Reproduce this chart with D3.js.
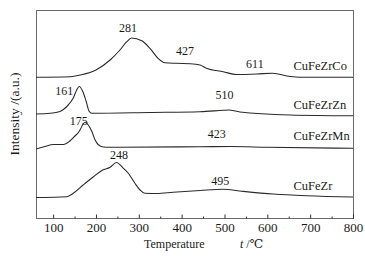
<!DOCTYPE html>
<html>
<head>
<meta charset="utf-8">
<script src="https://cdn.jsdelivr.net/npm/d3@7"></script>
<style>
  body { margin: 0; background: #fff; }
</style>
</head>
<body>
<svg id="chart" width="365" height="257"></svg>
<script>
// TPR profiles, temperature (°C) vs intensity (a.u., offset stacked)
const seriesNames = ["CuFeZrCo", "CuFeZrZn", "CuFeZrMn", "CuFeZr"];

const tempCo = [60, 140, 163, 200, 233, 256, 272, 283, 307, 326, 345, 361, 388, 420, 443, 458, 497, 528, 575, 612, 653, 676, 800];
const intCo  = [140.7, 141.3, 143, 148, 158, 168, 176.3, 180, 177.3, 169.7, 159.7, 155.3, 154.7, 154.3, 153, 149.7, 146.3, 143.5, 144, 144.8, 141.5, 140.7, 140.7];

const tempZn = [60, 93, 116, 132, 147, 155, 161, 169, 177, 184, 190, 326, 443, 497, 510, 536, 653, 800];
const intZn  = [104, 104.7, 106.5, 111.5, 120, 128, 131.5, 126.7, 116.7, 106.7, 104.7, 105.5, 106.3, 107.7, 108, 106, 103, 102.2];

const tempMn = [60, 81, 100, 124, 139, 151, 159, 164, 170, 175, 181, 190, 198, 205, 217, 233, 443, 513, 600, 800];
const intMn  = [69, 71.5, 73.5, 73.5, 77, 82, 85.5, 89, 94, 95.7, 93.5, 87, 78, 73.5, 71, 70.7, 71.3, 71.5, 70.7, 69.7];

const tempZr = [60, 132, 147, 170, 194, 213, 233, 248, 264, 275, 291, 303, 314, 342, 380, 443, 497, 536, 614, 692, 800];
const intZr  = [20.5, 21.3, 24.7, 33, 41.3, 47.3, 50.7, 55.5, 49.7, 45, 34.7, 28, 24.7, 24.5, 25.7, 27.5, 28.7, 27, 24, 22.3, 21];

// peak annotations: text, temperature, intensity
const peakText = ["281", "427", "611", "161", "510", "175", "423", "248", "495"];
const peakTemp = [275, 408, 571, 126, 500, 160, 482, 254, 490];
const peakInt  = [185.7, 163, 149.7, 123, 118.7, 93, 79.7, 59.5, 33];

// series name anchor (left-aligned)
const nameTemp = 661;
const nameInt  = [148, 108.7, 78, 28];

const xTicks = [100, 200, 300, 400, 500, 600, 700, 800];
const xMinor = [150, 250, 350, 450, 550, 650, 750];

const serif = "'Liberation Serif', 'DejaVu Serif', 'Times New Roman', serif";
const ink = "#1a1a1a";

const svg = d3.select("#chart");
const plotL = 36, plotR = 353, plotT = 10, plotB = 218;

let x = d3.scaleLinear().domain([60, 800]).range([plotL, plotR]);
let y = d3.scaleLinear().domain([0, 208]).range([plotB, plotT]);

// frame
svg.append("rect")
   .attr("x", plotL + 0.5).attr("y", plotT + 0.5)
   .attr("width", plotR - plotL).attr("height", plotB - plotT)
   .attr("fill", "none").attr("stroke", "#6a6a6a").attr("stroke-width", 1);

// x axis, ticks pointing inward
let xAxis = d3.axisBottom(x).tickValues(xTicks).tickSizeInner(-4).tickSizeOuter(0).tickPadding(4);
let gx = svg.append("g")
   .attr("transform", "translate(0," + (plotB + 0.5) + ")")
   .call(xAxis);
gx.select(".domain").remove();
gx.attr("font-family", serif).attr("font-size", 13);
gx.selectAll("line").attr("stroke", "#333");
gx.selectAll("text").attr("fill", ink);

let xAxisMinor = d3.axisBottom(x).tickValues(xMinor).tickSizeInner(-2).tickSizeOuter(0).tickFormat("");
let gm = svg.append("g")
   .attr("transform", "translate(0," + (plotB + 0.5) + ")")
   .call(xAxisMinor);
gm.select(".domain").remove();
gm.selectAll("line").attr("stroke", "#333");

// curves
const temps = [tempCo, tempZn, tempMn, tempZr];
const ints = [intCo, intZn, intMn, intZr];
let line = d3.line()
   .x(d => x(d[0]))
   .y(d => y(d[1]))
   .curve(d3.curveMonotoneX);

svg.append("g").selectAll("path")
   .data(seriesNames.map((n, i) => temps[i].map((t, j) => [t, ints[i][j]])))
   .enter().append("path")
   .attr("d", line)
   .attr("fill", "none")
   .attr("stroke", "#2a2a2a")
   .attr("stroke-width", 1.1);

// peak labels
svg.append("g").selectAll("text")
   .data(peakText)
   .enter().append("text")
   .attr("x", (d, i) => x(peakTemp[i]))
   .attr("y", (d, i) => y(peakInt[i]))
   .attr("text-anchor", "middle")
   .attr("font-family", serif).attr("font-size", 12).attr("fill", ink)
   .text(d => d);

// series names
svg.append("g").selectAll("text")
   .data(seriesNames)
   .enter().append("text")
   .attr("x", x(nameTemp))
   .attr("y", (d, i) => y(nameInt[i]))
   .attr("font-family", serif).attr("font-size", 12.5).attr("fill", ink)
   .text(d => d);

// axis titles
svg.append("text")
   .attr("x", 144).attr("y", 248)
   .attr("font-family", serif).attr("font-size", 12).attr("fill", ink)
   .text("Temperature");
let unit = svg.append("text")
   .attr("x", 240).attr("y", 248)
   .attr("font-family", serif).attr("font-size", 12).attr("fill", ink);
unit.append("tspan").attr("font-style", "italic").text("t");
unit.append("tspan").text(" /\u2103");

svg.append("text")
   .attr("transform", "translate(18.5,114) rotate(-90)")
   .attr("text-anchor", "middle")
   .attr("font-family", serif).attr("font-size", 13.5).attr("fill", ink)
   .text("Intensity /(a.u.)");
</script>
</body>
</html>
